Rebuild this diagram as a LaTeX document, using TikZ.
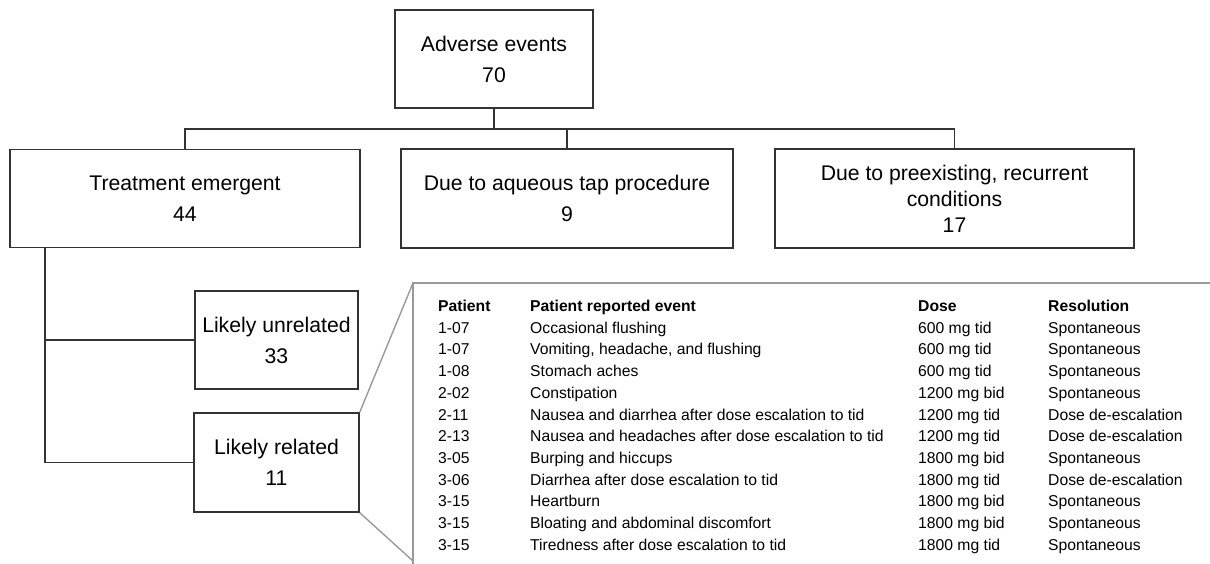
\documentclass[tikz,border=0pt]{standalone}
\usepackage{fontspec}
\setmainfont{Liberation Sans}
\begin{document}
\begin{tikzpicture}[x=1pt,y=-1pt,
  box/.style={draw=black!80, line width=1.4pt, rectangle, inner sep=0pt, align=center,
              font=\fontsize{21.2}{31}\selectfont},
  conn/.style={draw=black!80, line width=1.4pt},
  callout/.style={draw=black!40, line width=1.4pt},
  cell/.style={anchor=base west, inner sep=0pt, font=\fontsize{15.7}{18}\selectfont},
  head/.style={cell, font=\fontsize{15.7}{18}\selectfont\bfseries}]
\useasboundingbox (0,0) rectangle (1210,564);
% boxes
\node[box, minimum width=198, minimum height=98] (adv) at (494,59) {Adverse events\\70};
\node[box, minimum width=350, minimum height=98] (treat) at (185,198.5) {Treatment emergent\\44};
\node[box, minimum width=332, minimum height=99] (aq) at (567,198.5) {Due to aqueous tap procedure\\9};
\node[box, minimum width=359, minimum height=99, font=\fontsize{21.2}{26}\selectfont] (pre) at (954.5,198.5) {Due to preexisting, recurrent\\conditions\\17};
\node[box, minimum width=163, minimum height=98] (unrel) at (276.5,340) {Likely unrelated\\33};
\node[box, minimum width=165, minimum height=99] (rel) at (276.5,462.5) {Likely related\\11};
% tree connectors
\coordinate (hb) at (494,129);
\coordinate (tl) at (45,248);
\draw[conn] (adv.south) -- (hb);
\draw[conn] (treat.north) |- (hb) -| (pre.north);
\draw[conn] (aq.north) -- (aq.north |- hb);
\draw[conn] (tl) |- (rel.west);
\draw[conn] (tl |- unrel.west) -- (unrel.west);
% callout panel
\coordinate (ptl) at (413,283);
\coordinate (ptr) at (1210,283);
\coordinate (pbl) at (413,564);
\coordinate (pcb) at (413,561);
\draw[callout] (ptr) -- (ptl) -- (pbl);
\draw[callout] (rel.north east) -- (ptl);
\draw[callout] (rel.south east) -- (pcb);
% table
\node[head] (h1) at (438,311.5) {Patient};
\node[head] (h2) at (530,311.5) {Patient reported event};
\node[head] (h3) at (918,311.5) {Dose};
\node[head] (h4) at (1048,311.5) {Resolution};
\foreach \i/\p/\e/\d/\r in {
  1/1-07/Occasional flushing/600 mg tid/Spontaneous,
  2/1-07/{Vomiting, headache, and flushing}/600 mg tid/Spontaneous,
  3/1-08/Stomach aches/600 mg tid/Spontaneous,
  4/2-02/Constipation/1200 mg bid/Spontaneous,
  5/2-11/Nausea and diarrhea after dose escalation to tid/1200 mg tid/Dose de-escalation,
  6/2-13/Nausea and headaches after dose escalation to tid/1200 mg tid/Dose de-escalation,
  7/3-05/Burping and hiccups/1800 mg bid/Spontaneous,
  8/3-06/Diarrhea after dose escalation to tid/1800 mg tid/Dose de-escalation,
  9/3-15/Heartburn/1800 mg bid/Spontaneous,
  10/3-15/Bloating and abdominal discomfort/1800 mg bid/Spontaneous,
  11/3-15/Tiredness after dose escalation to tid/1800 mg tid/Spontaneous}{
  \pgfmathsetmacro{\yy}{311.5+21.7*\i}
  \node[cell] (p\i) at (438,\yy) {\p};
  \node[cell] (e\i) at (530,\yy) {\e};
  \node[cell] (d\i) at (918,\yy) {\d};
  \node[cell] (r\i) at (1048,\yy) {\r};
}
\end{tikzpicture}
\end{document}
